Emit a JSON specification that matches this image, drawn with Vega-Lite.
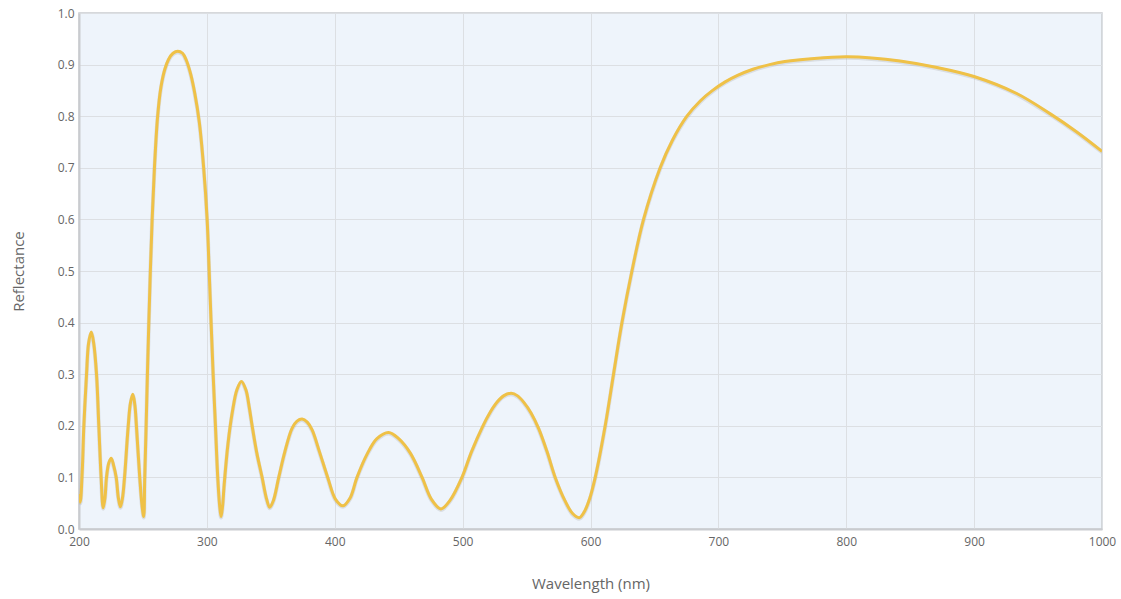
{
  "$schema": "https://vega.github.io/schema/vega-lite/v6.json",
  "width": 1023,
  "height": 516,
  "autosize": "none",
  "padding": {"left": 79, "top": 13, "right": 19, "bottom": 70},
  "background": "#ffffff",
  "config": {
    "font": "Open Sans",
    "view": {"fill": "#eef4fb", "stroke": "#c9cbcf", "strokeWidth": 1.5},
    "axis": {
      "labelFont": "Open Sans",
      "titleFont": "Open Sans",
      "labelColor": "#666666",
      "titleColor": "#666666",
      "labelFontSize": 12,
      "titleFontSize": 15,
      "titleFontWeight": "normal",
      "gridColor": "#dcdfe3",
      "gridWidth": 1,
      "domainColor": "#c9cbcf",
      "domainWidth": 2,
      "ticks": false
    }
  },
  "data": {
    "values": [
      {"wl": 200, "r": 0.068}, {"wl": 201, "r": 0.052}, {"wl": 202.5, "r": 0.11}, {"wl": 203.8, "r": 0.2},
      {"wl": 205.9, "r": 0.3}, {"wl": 207.5, "r": 0.36}, {"wl": 209.6, "r": 0.382}, {"wl": 211.5, "r": 0.36},
      {"wl": 213.7, "r": 0.3}, {"wl": 215.5, "r": 0.2}, {"wl": 217.3, "r": 0.1}, {"wl": 218.9, "r": 0.041},
      {"wl": 220.3, "r": 0.06}, {"wl": 221.5, "r": 0.1}, {"wl": 223.3, "r": 0.128}, {"wl": 225.2, "r": 0.137},
      {"wl": 227.2, "r": 0.122}, {"wl": 229.1, "r": 0.1}, {"wl": 230.8, "r": 0.06}, {"wl": 232.4, "r": 0.043},
      {"wl": 234, "r": 0.06}, {"wl": 235.6, "r": 0.1}, {"wl": 238.5, "r": 0.2}, {"wl": 240.3, "r": 0.245},
      {"wl": 242.1, "r": 0.261}, {"wl": 243.7, "r": 0.24}, {"wl": 244.9, "r": 0.2}, {"wl": 247.5, "r": 0.1},
      {"wl": 249.3, "r": 0.045}, {"wl": 250.6, "r": 0.024}, {"wl": 251.4, "r": 0.1}, {"wl": 252.5, "r": 0.2},
      {"wl": 253.5, "r": 0.3}, {"wl": 254.6, "r": 0.4}, {"wl": 255.8, "r": 0.5}, {"wl": 257.2, "r": 0.6},
      {"wl": 259.0, "r": 0.7}, {"wl": 261.5, "r": 0.8}, {"wl": 264, "r": 0.855}, {"wl": 267, "r": 0.89},
      {"wl": 270, "r": 0.91}, {"wl": 273.5, "r": 0.922},
      {"wl": 277.2, "r": 0.926}, {"wl": 281, "r": 0.922}, {"wl": 284, "r": 0.908}, {"wl": 287.2, "r": 0.883},
      {"wl": 290.5, "r": 0.845}, {"wl": 294.0, "r": 0.79}, {"wl": 297.5, "r": 0.7}, {"wl": 300.2, "r": 0.6},
      {"wl": 301.8, "r": 0.5}, {"wl": 303.3, "r": 0.4}, {"wl": 304.9, "r": 0.3}, {"wl": 306.7, "r": 0.2},
      {"wl": 308.5, "r": 0.1}, {"wl": 310.0, "r": 0.045}, {"wl": 311.1, "r": 0.024}, {"wl": 312.3, "r": 0.045},
      {"wl": 313.5, "r": 0.085}, {"wl": 316.5, "r": 0.165}, {"wl": 320, "r": 0.228}, {"wl": 323.5, "r": 0.27},
      {"wl": 327.0, "r": 0.286}, {"wl": 330.5, "r": 0.27}, {"wl": 333, "r": 0.238}, {"wl": 335.4, "r": 0.2},
      {"wl": 339, "r": 0.148}, {"wl": 343.2, "r": 0.1}, {"wl": 346.5, "r": 0.06}, {"wl": 349.1, "r": 0.042},
      {"wl": 352, "r": 0.055}, {"wl": 356.2, "r": 0.1}, {"wl": 361, "r": 0.15}, {"wl": 366.6, "r": 0.195},
      {"wl": 370.5, "r": 0.209}, {"wl": 374.5, "r": 0.213}, {"wl": 378.5, "r": 0.207}, {"wl": 382.3, "r": 0.192},
      {"wl": 388, "r": 0.15}, {"wl": 394.5, "r": 0.1}, {"wl": 400.5, "r": 0.058}, {"wl": 406.5, "r": 0.045},
      {"wl": 412, "r": 0.06}, {"wl": 417.4, "r": 0.1}, {"wl": 425.7, "r": 0.147}, {"wl": 433, "r": 0.175},
      {"wl": 442.1, "r": 0.187}, {"wl": 450, "r": 0.175}, {"wl": 459.1, "r": 0.147}, {"wl": 468.3, "r": 0.1},
      {"wl": 475.5, "r": 0.058}, {"wl": 483, "r": 0.039}, {"wl": 490, "r": 0.055}, {"wl": 499.5, "r": 0.1},
      {"wl": 507, "r": 0.15}, {"wl": 515.9, "r": 0.2}, {"wl": 521, "r": 0.224}, {"wl": 527, "r": 0.246},
      {"wl": 532, "r": 0.258}, {"wl": 538, "r": 0.263}, {"wl": 543, "r": 0.258},
      {"wl": 548, "r": 0.245}, {"wl": 553.5, "r": 0.225}, {"wl": 559.4, "r": 0.195}, {"wl": 566, "r": 0.15}, {"wl": 572.4, "r": 0.1},
      {"wl": 580, "r": 0.055}, {"wl": 586, "r": 0.03}, {"wl": 591.4, "r": 0.022}, {"wl": 595.5, "r": 0.035},
      {"wl": 599.5, "r": 0.06}, {"wl": 603.7, "r": 0.1}, {"wl": 611.5, "r": 0.2}, {"wl": 618.0, "r": 0.3},
      {"wl": 624.6, "r": 0.4}, {"wl": 632.4, "r": 0.5}, {"wl": 641.5, "r": 0.6}, {"wl": 654.5, "r": 0.7},
      {"wl": 664, "r": 0.753}, {"wl": 675.4, "r": 0.8}, {"wl": 686, "r": 0.83}, {"wl": 695, "r": 0.849},
      {"wl": 705, "r": 0.866}, {"wl": 715, "r": 0.879}, {"wl": 727, "r": 0.891},
      {"wl": 740, "r": 0.9}, {"wl": 752, "r": 0.906}, {"wl": 775, "r": 0.912}, {"wl": 800, "r": 0.915},
      {"wl": 820, "r": 0.913}, {"wl": 842.1, "r": 0.907}, {"wl": 870, "r": 0.895}, {"wl": 899.9, "r": 0.877},
      {"wl": 933.3, "r": 0.844}, {"wl": 959.3, "r": 0.805}, {"wl": 980, "r": 0.77}, {"wl": 1000, "r": 0.732}
    ]
  },
  "encoding": {
    "x": {
      "field": "wl",
      "type": "quantitative",
      "title": "Wavelength (nm)",
      "scale": {"domain": [200, 1000], "nice": false, "zero": false},
      "axis": {"values": [200, 300, 400, 500, 600, 700, 800, 900, 1000], "format": "d", "labelFlush": false, "labelPadding": 7, "titlePadding": 29}
    },
    "y": {
      "field": "r",
      "type": "quantitative",
      "title": "Reflectance",
      "scale": {"domain": [0, 1], "nice": false},
      "axis": {"values": [0, 0.1, 0.2, 0.3, 0.4, 0.5, 0.6, 0.7, 0.8, 0.9, 1.0], "format": ".1f", "labelPadding": 5, "titlePadding": 31, "labelFlush": false}
    }
  },
  "layer": [
    {"mark": {"type": "line", "interpolate": "catmull-rom", "color": "#9a9a9a", "strokeWidth": 4, "opacity": 0.25, "yOffset": 1, "clip": true}},
    {"mark": {"type": "line", "interpolate": "catmull-rom", "color": "#efc147", "strokeWidth": 3, "clip": true}}
  ]
}
